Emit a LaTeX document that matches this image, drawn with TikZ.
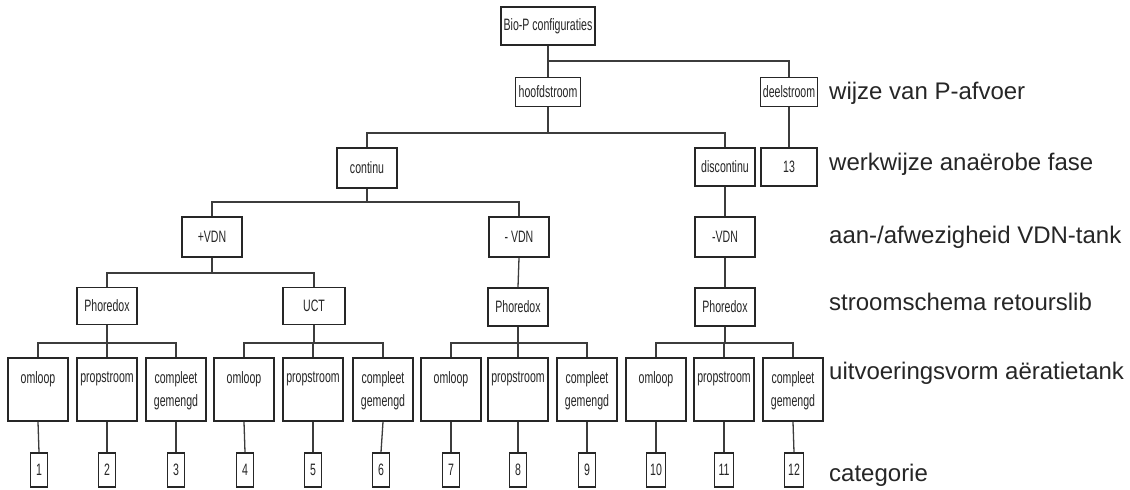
\documentclass[tikz,border=0pt]{standalone}
\usepackage{fontspec}
\setmainfont{Liberation Sans}
\newfontfamily\boxfont[FakeStretch=0.64]{Liberation Sans}
\definecolor{ink}{HTML}{262626}
\definecolor{wire}{HTML}{3C3C3C}
% text of a tall leaf box: set near the top of the box
\newcommand\leaftext[1]{\parbox[c][63pt][t]{58pt}{\centering\baselineskip=23pt\vspace*{14pt}#1}}

\begin{document}
\begin{tikzpicture}[x=1pt,y=-1pt,
  box/.style={draw=ink, line width=1.6pt, fill=white, inner sep=0pt,
    text=ink, font=\boxfont\fontsize{16.5}{19}\selectfont},
  midbox/.style={box, minimum width=60pt, minimum height=40pt},
  leafbox/.style={box, minimum width=60pt, minimum height=63pt},
  numbox/.style={box, minimum width=17pt, minimum height=34pt},
  wire/.style={draw=wire, line width=1.3pt},
  levellabel/.style={anchor=west, inner sep=0pt, text=ink,
    font=\fontsize{24}{27}\selectfont}
]
\fill[white] (0,0) rectangle (1130,490);
\useasboundingbox (0,0) rectangle (1130,490);

% root and first split
\node[box, minimum width=94pt, minimum height=38pt] (bio) at (548,26) {Bio-P configuraties};
\node[box, minimum width=65pt, minimum height=29pt] (hoofd) at (548,92) {hoofdstroom};
\node[box, minimum width=57pt, minimum height=29pt] (deel) at (789,92) {deelstroom};

% operating mode of the anaerobic phase
\node[midbox] (cont) at (367,168) {continu};
\node[midbox, minimum height=38pt] (discont) at (725,167) {discontinu};
\node[midbox, minimum width=56pt, minimum height=38pt] (n13) at (789,167) {13};

% VDN tank
\node[midbox] (pvdn) at (212,237) {+VDN};
\node[midbox] (mvdn) at (519,237) {- VDN};
\node[midbox] (mvdnb) at (725,237) {-VDN};

% return sludge scheme
\node[midbox, minimum height=37pt] (phorA) at (107,306) {Phoredox};
\node[midbox, minimum width=62pt, minimum height=37pt] (uct) at (314,306) {UCT};
\node[midbox, minimum height=38pt] (phorB) at (518,307) {Phoredox};
\node[midbox, minimum height=38pt] (phorC) at (725,307) {Phoredox};

% aeration tank layout
\node[leafbox] (la1) at (38,389.5)  {\leaftext{omloop}};
\node[leafbox] (la2) at (107,389.5) {\leaftext{propstroom}};
\node[leafbox] (la3) at (176,389.5) {\leaftext{compleet\\gemengd}};
\node[leafbox] (lb1) at (244,389.5) {\leaftext{omloop}};
\node[leafbox] (lb2) at (313,389.5) {\leaftext{propstroom}};
\node[leafbox] (lb3) at (383,389.5) {\leaftext{compleet\\gemengd}};
\node[leafbox] (lc1) at (451,389.5) {\leaftext{omloop}};
\node[leafbox] (lc2) at (518,389.5) {\leaftext{propstroom}};
\node[leafbox] (lc3) at (587,389.5) {\leaftext{compleet\\gemengd}};
\node[leafbox] (ld1) at (656,389.5) {\leaftext{omloop}};
\node[leafbox] (ld2) at (724,389.5) {\leaftext{propstroom}};
\node[leafbox] (ld3) at (793,389.5) {\leaftext{compleet\\gemengd}};

% categories
\node[numbox] (c1) at (39,470) {1};
\node[numbox] (c2) at (107,470) {2};
\node[numbox] (c3) at (176,470) {3};
\node[numbox] (c4) at (245,470) {4};
\node[numbox] (c5) at (313,470) {5};
\node[numbox] (c6) at (381,470) {6};
\node[numbox] (c7) at (451,470) {7};
\node[numbox] (c8) at (518,470) {8};
\node[numbox] (c9) at (587,470) {9};
\node[numbox, minimum width=19pt] (c10) at (656,470) {10};
\node[numbox, minimum width=19pt] (c11) at (724,470) {11};
\node[numbox, minimum width=19pt] (c12) at (794,470) {12};

% tree connectors
\begin{scope}[wire]
  \draw (bio.south) -- (bio.south |- 0,61) -| (hoofd.north);
  \draw (bio.south) -- (bio.south |- 0,61) -| (deel.north);
  \draw (deel.south) -- (n13.north);
  \draw (hoofd.south) -- (hoofd.south |- 0,133) -| (cont.north);
  \draw (hoofd.south) -- (hoofd.south |- 0,133) -| (discont.north);
  \draw (cont.south) -- (cont.south |- 0,202) -| (pvdn.north);
  \draw (cont.south) -- (cont.south |- 0,202) -| (mvdn.north);
  \draw (discont.south) -- (mvdnb.north);
  \draw (pvdn.south) -- (pvdn.south |- 0,273) -| (phorA.north);
  \draw (pvdn.south) -- (pvdn.south |- 0,273) -| (uct.north);
  \draw (mvdn.south) -- (phorB.north);
  \draw (mvdnb.south) -- (phorC.north);
  \foreach \p/\a/\b/\c in {phorA/la1/la2/la3, uct/lb1/lb2/lb3, phorB/lc1/lc2/lc3, phorC/ld1/ld2/ld3}{
    \draw (\p.south) -- (\p.south |- 0,343) -| (\a.north);
    \draw (\p.south) -- (\p.south |- 0,343) -| (\b.north);
    \draw (\p.south) -- (\p.south |- 0,343) -| (\c.north);
  }
  \foreach \l/\n in {la1/c1, la2/c2, la3/c3, lb1/c4, lb2/c5, lb3/c6,
                     lc1/c7, lc2/c8, lc3/c9, ld1/c10, ld2/c11, ld3/c12}{
    \draw (\l.south) -- (\n.north);
  }
\end{scope}

% level descriptions
\node[levellabel] (t1) at (829,93)  {wijze van P-afvoer};
\node[levellabel] (t2) at (829,164) {werkwijze anaërobe fase};
\node[levellabel] (t3) at (829,237) {aan-/afwezigheid VDN-tank};
\node[levellabel] (t4) at (829,302) {stroomschema retourslib};
\node[levellabel] (t5) at (829,373) {uitvoeringsvorm aëratietank};
\node[levellabel] (t6) at (829,475) {categorie};
\end{tikzpicture}
\end{document}
